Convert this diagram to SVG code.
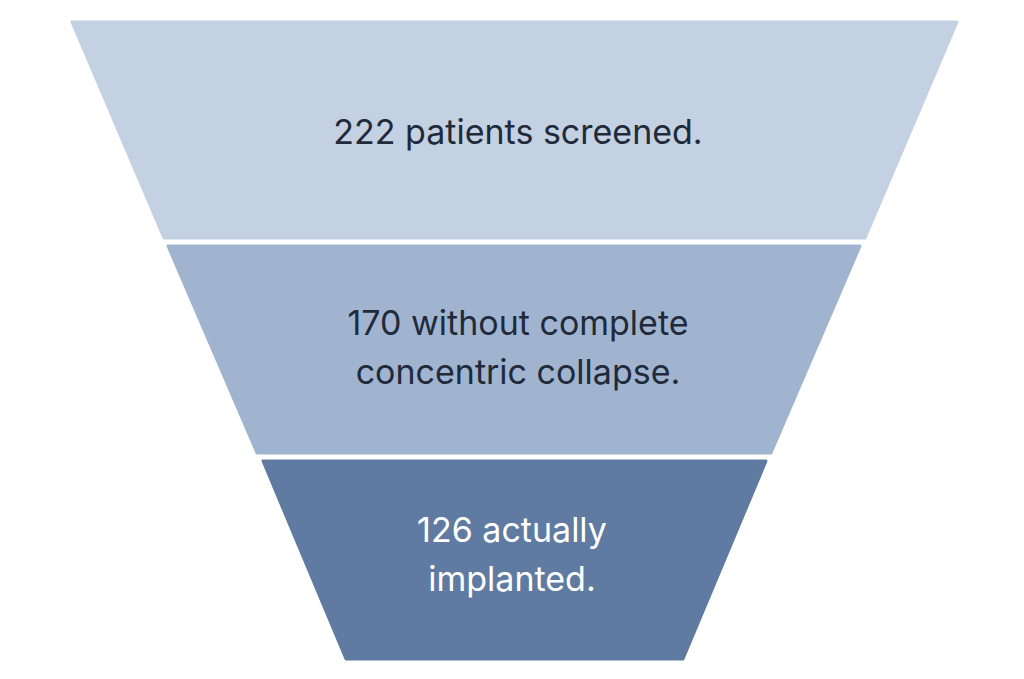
<svg xmlns="http://www.w3.org/2000/svg" width="1024" height="679" viewBox="0 0 1024 679">
<style>
.t{font-family:Inter,"Liberation Sans",sans-serif;font-size:34px;text-anchor:middle}
.d{fill:#1f2a3a}.w{fill:#ffffff}
</style>
<rect width="1024" height="679" fill="#ffffff"/>
<g id="stage1"><path d="M72,22 L957,22 L865,238 L164,238 Z" fill="#c4d1e3" stroke="#c4d1e3" stroke-width="3" stroke-linejoin="round"/>
<text class="t d" x="518" y="144">222 patients screened.</text></g>
<g id="stage2"><path d="M168,246 L860,246 L771,453 L257,453 Z" fill="#a0b4d0" stroke="#a0b4d0" stroke-width="3" stroke-linejoin="round"/>
<text class="t d" x="518" y="335">170 without complete</text>
<text class="t d" x="518" y="384">concentric collapse.</text></g>
<g id="stage3"><path d="M263,461 L766,461 L683,659 L346,659 Z" fill="#5f7ba1" stroke="#5f7ba1" stroke-width="3" stroke-linejoin="round"/>
<text class="t w" x="512" y="542">126 actually</text>
<text class="t w" x="512" y="591">implanted.</text></g>
<g id="connectors"/>
</svg>
